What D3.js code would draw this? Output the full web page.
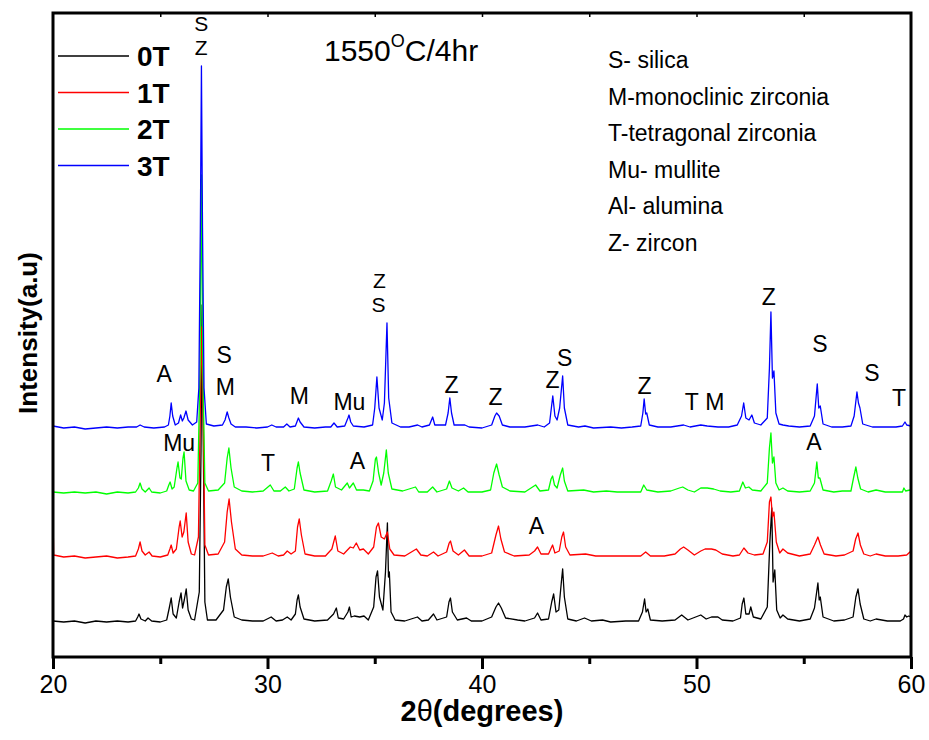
<!DOCTYPE html>
<html>
<head>
<meta charset="utf-8">
<script src="https://cdn.jsdelivr.net/npm/d3@7"></script>
<style>
  body { margin: 0; background: #fff; }
  svg { font-family: "Liberation Sans", Arial, sans-serif; }
</style>
</head>
<body>
<div id="chart"></div>
<script>
// samples in legend order, offsets stack the traces (a.u.)
const samples = ["0T", "1T", "2T", "3T"];
const colors = ["#000000", "#ff0000", "#00ff00", "#0000ff"];
const offsets = [35, 100, 164, 229];
const xTicks = [20, 30, 40, 50, 60];

// [2theta, intensity]
const trace0T = [[20.0,1],[20.5,0],[21.0,1],[21.5,-1],[22.0,1],[22.5,0],[23.0,1],[23.5,0],[23.85,1],[23.95,5],[24.01,8],[24.1,3],[24.3,1],[24.43,4],[24.6,1],[25.0,0],[25.3,2],[25.42,14],[25.51,24],[25.6,8],[25.75,4],[25.88,20],[25.97,29],[26.04,14],[26.12,22],[26.21,33],[26.3,12],[26.45,3],[26.6,2],[26.82,30],[26.9,170],[26.95,317],[27.01,170],[27.08,20],[27.2,2],[27.6,2],[27.95,12],[28.08,35],[28.17,43],[28.27,25],[28.45,5],[28.8,2],[29.3,1],[29.8,1],[30.17,5],[30.4,1],[30.7,2],[30.92,5],[31.1,2],[31.3,8],[31.38,22],[31.44,27],[31.52,15],[31.7,3],[32.2,1],[32.8,2],[33.08,8],[33.21,14],[33.3,4],[33.55,3],[33.75,10],[33.82,15],[33.9,5],[34.05,6],[34.3,5],[34.5,6],[34.7,2],[34.95,15],[35.06,45],[35.13,51],[35.22,25],[35.38,12],[35.5,50],[35.59,99],[35.64,45],[35.68,50],[35.76,10],[35.95,2],[36.4,1],[36.99,5],[37.2,1],[37.5,2],[37.74,8],[37.9,2],[38.35,5],[38.46,20],[38.53,24],[38.62,10],[38.85,2],[39.28,4],[39.5,1],[40.0,1],[40.45,5],[40.65,15],[40.77,19],[40.9,14],[41.1,4],[41.66,2],[42.0,1],[42.45,4],[42.59,9],[42.75,2],[43.1,3],[43.25,20],[43.34,28],[43.45,10],[43.58,12],[43.7,40],[43.76,53],[43.84,25],[44.0,3],[44.4,1],[44.78,4],[45.1,1],[45.62,2],[46.0,0],[46.7,1],[47.3,1],[47.48,10],[47.58,23],[47.65,10],[47.73,13],[47.85,2],[48.4,1],[49.0,2],[49.31,7],[49.6,2],[50.2,7],[50.45,3],[50.7,5],[51.0,5],[51.2,2],[51.7,1],[52.05,4],[52.13,18],[52.21,24],[52.3,8],[52.45,8],[52.53,15],[52.65,5],[53.0,3],[53.3,15],[53.42,80],[53.51,114],[53.57,40],[53.65,52],[53.74,12],[53.9,4],[54.03,7],[54.25,3],[54.8,1],[55.3,3],[55.5,14],[55.66,39],[55.72,22],[55.77,25],[55.9,5],[56.4,1],[56.9,2],[57.3,5],[57.43,25],[57.53,33],[57.63,18],[57.8,3],[58.1,1],[58.37,3],[58.9,1],[59.5,1],[59.65,3],[59.72,7],[59.8,5],[59.9,6],[60.0,5]];

const trace1T = [[20.0,45],[20.03,2],[20.5,0],[21.0,1],[21.5,-1],[22.0,0],[22.5,1],[23.0,-1],[23.5,0],[23.85,1],[23.98,8],[24.06,15],[24.15,6],[24.3,2],[24.48,5],[24.62,1],[25.0,0],[25.35,2],[25.45,8],[25.51,12],[25.6,4],[25.75,8],[25.88,30],[25.93,36],[26.02,20],[26.1,25],[26.21,44],[26.3,15],[26.45,3],[26.6,2],[26.78,20],[26.87,150],[26.93,230],[27.0,150],[27.08,12],[27.25,2],[27.7,3],[28.0,15],[28.12,45],[28.21,58],[28.32,35],[28.5,8],[28.8,2],[29.3,1],[29.8,1],[30.22,4],[30.5,1],[30.75,2],[30.92,6],[31.1,3],[31.3,6],[31.4,30],[31.48,38],[31.58,22],[31.75,3],[32.2,1],[32.7,1],[33.0,8],[33.16,21],[33.28,6],[33.55,3],[33.86,10],[34.0,9],[34.14,14],[34.3,7],[34.47,8],[34.7,3],[34.95,10],[35.08,30],[35.17,34],[35.3,20],[35.45,18],[35.59,25],[35.7,8],[35.9,2],[36.4,1],[36.94,8],[37.15,2],[37.45,1],[37.74,5],[37.95,1],[38.35,5],[38.47,14],[38.53,16],[38.65,6],[38.9,2],[39.18,7],[39.4,1],[40.0,1],[40.45,4],[40.65,22],[40.77,31],[40.88,18],[41.05,5],[41.5,1],[42.2,2],[42.45,6],[42.59,10],[42.75,3],[43.1,3],[43.29,12],[43.4,4],[43.6,6],[43.72,20],[43.8,25],[43.9,10],[44.1,2],[44.83,3],[45.3,1],[46.0,1],[46.7,1],[47.4,1],[47.63,5],[47.85,1],[48.5,1],[49.0,3],[49.25,8],[49.4,10],[49.6,7],[49.9,2],[50.2,6],[50.4,8],[50.7,8],[50.9,7],[51.2,3],[51.7,1],[52.0,2],[52.21,9],[52.4,4],[52.7,2],[53.1,3],[53.3,15],[53.4,55],[53.47,60],[53.54,40],[53.61,45],[53.72,15],[53.88,4],[54.03,8],[54.25,4],[54.8,1],[55.3,3],[55.5,12],[55.66,20],[55.78,12],[55.95,3],[56.5,1],[56.9,2],[57.3,6],[57.42,18],[57.53,24],[57.64,12],[57.8,3],[58.1,1],[58.37,3],[58.8,1],[59.4,1],[59.8,2],[60.0,6]];

const trace2T = [[20.0,1],[20.5,0],[21.0,1],[21.5,0],[22.0,1],[22.5,-1],[23.0,1],[23.5,0],[23.85,1],[23.98,5],[24.06,10],[24.15,4],[24.3,1],[24.48,5],[24.6,1],[25.0,0],[25.3,2],[25.4,8],[25.46,11],[25.55,4],[25.65,6],[25.78,25],[25.83,31],[25.92,15],[25.98,14],[26.06,35],[26.11,41],[26.2,12],[26.35,3],[26.55,2],[26.75,10],[26.85,120],[26.92,318],[26.99,120],[27.08,10],[27.25,2],[27.7,3],[28.0,10],[28.12,35],[28.2,45],[28.3,25],[28.45,6],[28.8,2],[29.3,1],[29.8,2],[30.13,8],[30.3,2],[30.6,2],[30.83,6],[31.0,2],[31.25,4],[31.38,25],[31.44,31],[31.52,20],[31.7,3],[32.2,1],[32.8,2],[32.97,12],[33.07,19],[33.17,6],[33.45,3],[33.72,10],[33.82,5],[34.0,10],[34.15,3],[34.47,3],[34.75,2],[34.92,12],[35.03,34],[35.08,36],[35.18,20],[35.3,8],[35.42,20],[35.54,43],[35.63,20],[35.8,4],[36.3,2],[36.9,6],[37.05,1],[37.45,1],[37.7,6],[37.9,1],[38.35,4],[38.48,12],[38.6,5],[38.9,2],[39.14,5],[39.35,1],[40.0,1],[40.4,3],[40.55,20],[40.68,29],[40.8,18],[40.95,6],[41.3,2],[42.0,1],[42.5,8],[42.7,2],[43.1,3],[43.22,14],[43.29,17],[43.38,8],[43.5,5],[43.65,18],[43.76,25],[43.84,12],[44.0,2],[44.74,3],[45.2,1],[45.8,2],[46.3,1],[47.0,1],[47.4,1],[47.54,8],[47.68,3],[48.2,1],[48.8,2],[49.2,5],[49.36,6],[49.6,3],[49.9,1],[50.2,5],[50.5,5],[50.8,4],[51.1,2],[51.6,1],[52.0,2],[52.16,11],[52.28,5],[52.44,6],[52.6,3],[53.0,2],[53.3,10],[53.4,45],[53.47,60],[53.54,30],[53.61,36],[53.7,10],[53.85,3],[54.03,5],[54.25,2],[54.8,1],[55.3,2],[55.5,10],[55.61,31],[55.68,15],[55.75,15],[55.9,3],[56.4,1],[56.8,2],[57.2,2],[57.32,15],[57.43,26],[57.52,15],[57.65,4],[58.0,1],[58.37,3],[58.8,1],[59.3,1],[59.6,1],[59.67,5],[59.75,2],[59.95,3],[60.0,4]];

const trace3T = [[20.0,2],[20.5,0],[21.0,1],[21.5,-1],[22.0,0],[22.5,1],[23.0,0],[23.5,1],[23.9,1],[24.06,3],[24.25,1],[24.7,0],[25.2,1],[25.38,3],[25.45,12],[25.51,25],[25.58,12],[25.7,3],[25.85,5],[25.95,13],[26.03,7],[26.1,10],[26.2,17],[26.3,8],[26.5,3],[26.7,6],[26.8,40],[26.87,200],[26.92,362],[26.97,200],[27.04,40],[27.15,4],[27.5,2],[27.9,3],[28.02,8],[28.12,16],[28.2,10],[28.3,4],[28.5,1],[29.0,1],[29.5,0],[30.0,1],[30.2,3],[30.4,1],[30.75,1],[30.9,4],[31.05,1],[31.3,2],[31.44,10],[31.52,6],[31.7,1],[32.2,0],[32.7,1],[32.95,1],[33.1,5],[33.25,1],[33.6,2],[33.75,10],[33.8,13],[33.88,6],[34.0,2],[34.5,1],[34.9,3],[35.0,20],[35.1,51],[35.2,20],[35.35,8],[35.45,25],[35.57,105],[35.65,30],[35.8,5],[36.2,1],[36.6,1],[37.0,3],[37.2,1],[37.55,3],[37.7,11],[37.8,3],[38.3,3],[38.42,15],[38.5,30],[38.58,15],[38.7,3],[39.2,3],[39.4,1],[40.0,0],[40.45,3],[40.6,12],[40.68,15],[40.8,12],[40.95,3],[41.3,1],[42.0,1],[42.6,3],[42.9,1],[43.15,5],[43.3,32],[43.4,12],[43.5,8],[43.62,20],[43.76,52],[43.84,20],[44.0,3],[44.5,1],[44.8,2],[45.2,0],[46.0,1],[46.5,0],[47.0,1],[47.4,2],[47.5,15],[47.56,29],[47.63,14],[47.68,15],[47.8,3],[48.2,1],[48.8,1],[49.4,3],[49.7,1],[50.2,3],[50.5,2],[51.0,1],[51.5,1],[51.9,3],[52.1,12],[52.2,25],[52.3,10],[52.45,8],[52.58,13],[52.7,5],[53.0,3],[53.3,10],[53.4,60],[53.47,116],[53.54,50],[53.61,57],[53.7,15],[53.85,4],[54.03,3],[54.3,2],[54.8,1],[55.3,2],[55.5,12],[55.63,44],[55.7,20],[55.77,22],[55.9,4],[56.3,1],[56.8,1],[57.2,2],[57.35,12],[57.48,36],[57.55,25],[57.62,20],[57.75,4],[58.2,1],[58.8,1],[59.3,1],[59.6,2],[59.72,6],[59.8,3],[60.0,2]];

const traces = [trace0T, trace1T, trace2T, trace3T];

// peak labels: [text, 2theta, stacked intensity]
const peakLabels = [
  ["A", 25.18, 283], ["S", 27.98, 302], ["M", 28.03, 270], ["M", 31.48, 261],
  ["Mu", 33.82, 255], ["Z", 38.58, 272],
  ["Z", 40.63, 260], ["Z", 43.29, 277], ["S", 43.85, 299], ["Z", 47.58, 271],
  ["T", 49.78, 255], ["M", 50.85, 255], ["Z", 53.37, 360], ["S", 55.75, 313],
  ["S", 58.18, 284], ["T", 59.44, 259],
  ["Mu", 25.88, 214], ["T", 30.03, 194], ["A", 34.19, 196], ["A", 55.47, 215],
  ["A", 42.54, 131]
];
// two-letter stacks, set a little tighter
const stackedLabels = [
  ["S", 26.91, 633], ["Z", 26.91, 609],
  ["Z", 35.22, 376], ["S", 35.17, 352]
];

const phaseKey = ["S- silica", "M-monoclinic zirconia", "T-tetragonal zirconia",
  "Mu- mullite", "Al- alumina", "Z- zircon"];

const width = 929, height = 740;
const margin = {top: 13, right: 18, bottom: 83, left: 53};

const svg = d3.select("#chart").append("svg")
  .attr("width", width)
  .attr("height", height);

const x = d3.scaleLinear()
  .domain([20, 60])
  .range([margin.left, width - margin.right]);

const y = d3.scaleLinear()
  .domain([0, 644])
  .range([height - margin.bottom, margin.top]);

// traces
const line = d3.line()
  .x(d => x(d[0]))
  .y(d => y(d[1]));

traces.forEach((t, i) => {
  svg.append("path")
    .datum(t.map(d => [d[0], d[1] + offsets[i]]))
    .attr("d", line)
    .attr("fill", "none")
    .attr("stroke", colors[i])
    .attr("stroke-width", 1.3)
    .attr("stroke-linejoin", "round");
});

// bottom axis, major + minor
const xAxis = svg.append("g")
  .attr("transform", "translate(0," + y(0) + ")")
  .call(d3.axisBottom(x).tickValues(xTicks).tickSize(12).tickFormat(d3.format("d")));
xAxis.select(".domain").remove();
xAxis.selectAll(".tick line").attr("stroke-width", 3);
xAxis.selectAll(".tick text")
  .attr("y", 18)
  .attr("dy", "0.71em")
  .style("font-size", "25px")
  .style("font-family", "'Liberation Sans', Arial, sans-serif");

const minor = svg.append("g")
  .attr("transform", "translate(0," + y(0) + ")")
  .call(d3.axisBottom(x).tickValues([25, 35, 45, 55]).tickSize(7).tickFormat(""));
minor.select(".domain").remove();
minor.selectAll(".tick line").attr("stroke-width", 3);

const topAxis = svg.append("g")
  .attr("transform", "translate(0," + y(644) + ")")
  .call(d3.axisTop(x).tickValues([25, 30, 35, 40, 45, 50, 55]).tickSize(-4).tickFormat(""));
topAxis.select(".domain").remove();
topAxis.selectAll(".tick line").attr("stroke-width", 1.5);

// frame
svg.append("rect")
  .attr("x", x(20))
  .attr("y", y(644))
  .attr("width", x(60) - x(20))
  .attr("height", y(0) - y(644))
  .attr("fill", "none")
  .attr("stroke", "#000")
  .attr("stroke-width", 3);

// axis titles
svg.append("text")
  .attr("x", (x(20) + x(60)) / 2)
  .attr("y", 721)
  .attr("text-anchor", "middle")
  .style("font-size", "29px")
  .style("font-weight", "bold")
  .html('2<tspan style="font-weight:normal">θ</tspan>(degrees)');

svg.append("text")
  .attr("transform", "translate(37," + y(324) + ") rotate(-90)")
  .attr("text-anchor", "middle")
  .style("font-size", "26px")
  .style("font-weight", "bold")
  .text("Intensity(a.u)");

// legend
const legend = svg.append("g");
samples.forEach((s, i) => {
  const ly = 56 + i * 36.5;
  legend.append("line")
    .attr("x1", 58).attr("x2", 129)
    .attr("y1", ly).attr("y2", ly)
    .attr("stroke", colors[i])
    .attr("stroke-width", 1.3);
  legend.append("text")
    .attr("x", 137)
    .attr("y", ly)
    .attr("dy", "0.36em")
    .style("font-size", "28px")
    .style("font-weight", "bold")
    .text(s);
});

// heading
svg.append("text")
  .attr("x", 324)
  .attr("y", 61)
  .style("font-size", "30px")
  .html('1550<tspan dy="-14" style="font-size:18px">O</tspan><tspan dy="14">C/4hr</tspan>');

// phase key
svg.selectAll(".phase")
  .data(phaseKey)
  .join("text")
  .attr("class", "phase")
  .attr("x", 608)
  .attr("y", (d, i) => 60 + i * 36.6)
  .attr("dy", "0.35em")
  .style("font-size", "23px")
  .text(d => d);

// peak labels
svg.selectAll(".peak")
  .data(peakLabels)
  .join("text")
  .attr("class", "peak")
  .attr("x", d => x(d[1]))
  .attr("y", d => y(d[2]))
  .attr("dy", "0.35em")
  .attr("text-anchor", "middle")
  .style("font-size", "23px")
  .text(d => d[0]);

svg.selectAll(".stack")
  .data(stackedLabels)
  .join("text")
  .attr("class", "stack")
  .attr("x", d => x(d[1]))
  .attr("y", d => y(d[2]))
  .attr("dy", "0.35em")
  .attr("text-anchor", "middle")
  .style("font-size", "21px")
  .text(d => d[0]);
</script>
</body>
</html>
